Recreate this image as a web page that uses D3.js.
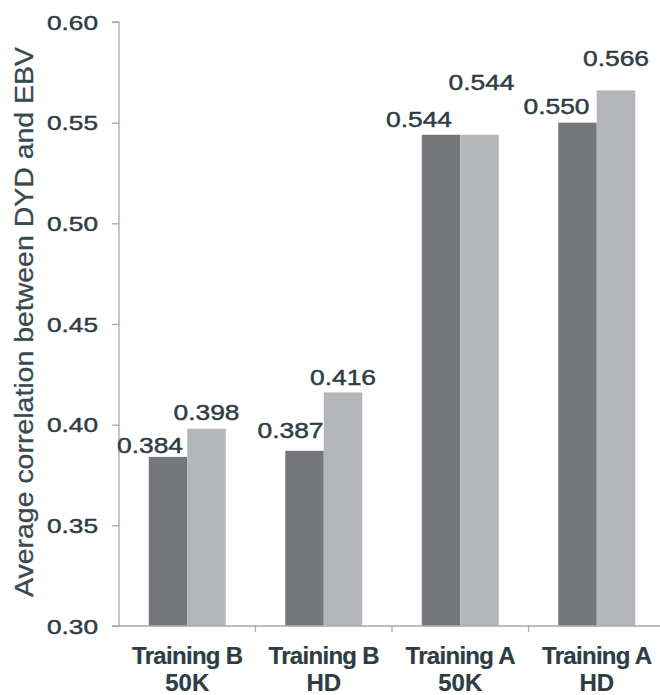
<!DOCTYPE html>
<html>
<head>
<meta charset="utf-8">
<script src="https://cdn.jsdelivr.net/npm/d3@7"></script>
<style>
  html, body { margin: 0; padding: 0; background: #fff; }
  svg { display: block; }
  text { font-family: "Liberation Sans", Arial, sans-serif; fill: #2e3c45; }
</style>
</head>
<body>
<svg id="chart" width="660" height="695"></svg>
<script>
// ---- data ----
const categories = [["Training B", "50K"], ["Training B", "HD"], ["Training A", "50K"], ["Training A", "HD"]];
const seriesNames = ["dark", "light"];
const darkValues  = [0.384, 0.387, 0.544, 0.550];
const lightValues = [0.398, 0.416, 0.544, 0.566];
const valueLabels = [["0.384", "0.398"], ["0.387", "0.416"], ["0.544", "0.544"], ["0.550", "0.566"]];
const yTicks = [0.30, 0.35, 0.40, 0.45, 0.50, 0.55, 0.60];
const yTitle = "Average correlation between DYD and EBV";

// label nudges (layout only, px): [dx, dy] per group per series
const labelNudge = [
  [[-18, -4], [0, -9]],
  [[-14, -13], [0, -7]],
  [[-22, -8], [2, -45]],
  [[-21, -9], [0, -24]]
];

const colors = { dark: "#75777a", light: "#b4b6b9" };
const axisColor = "#9eadb7";
const textColor = "#2e3c45";

const svg = d3.select("#chart");
const mLeft = 119, mRight = 665, mTop = 22, mBottom = 626;

const y = d3.scaleLinear().domain([0.30, 0.60]).range([mBottom, mTop]);
const x0 = d3.scaleBand().domain(d3.range(categories.length)).range([mLeft, mRight]).paddingInner(0).paddingOuter(0);
const x1 = d3.scaleBand().domain(seriesNames).range([0, x0.bandwidth()]).paddingInner(0).paddingOuter(0.773);

function stretchedText(parent, x, yy, str, opts) {
  const g = parent.append("g").attr("transform", `translate(${x},${yy})`);
  const t = g.append("text")
    .attr("transform", `scale(${opts.sx || 1},1)`)
    .attr("text-anchor", opts.anchor || "middle")
    .style("font-size", opts.size + "px")
    .style("font-weight", opts.weight || "normal")
    .style("stroke", textColor)
    .style("stroke-width", opts.stroke || 0.45)
    .text(str);
  if (opts.ls) t.style("letter-spacing", opts.ls + "px");
  return t;
}

// bars
const data = categories.map((c, i) => ({ i, vals: [darkValues[i], lightValues[i]] }));
const groups = svg.append("g").selectAll("g").data(data).join("g")
  .attr("transform", d => `translate(${x0(d.i)},0)`);
groups.selectAll("rect").data(d => d.vals.map((v, k) => ({ v, k }))).join("rect")
  .attr("x", d => x1(seriesNames[d.k]))
  .attr("width", x1.bandwidth())
  .attr("y", d => y(d.v))
  .attr("height", d => y(0.30) - y(d.v))
  .attr("fill", d => colors[seriesNames[d.k]]);

// y axis
const yAxis = d3.axisLeft(y).tickValues(yTicks).tickSize(7).tickFormat("");
const ya = svg.append("g").attr("transform", `translate(${mLeft},0)`).call(yAxis);
ya.selectAll("path,line").attr("stroke", axisColor).attr("stroke-width", 1.3);
ya.select(".domain").attr("d", `M-7,${mTop}H0V${mBottom}H-7`);
yTicks.forEach(v => {
  stretchedText(svg, 98, y(v) + 7.5, d3.format(".2f")(v), { size: 21, sx: 1.25, anchor: "end" });
});

// x axis
const xa = svg.append("g").attr("transform", `translate(0,${mBottom})`);
xa.append("line").attr("x1", mLeft).attr("x2", 660).attr("y1", 0).attr("y2", 0)
  .attr("stroke", axisColor).attr("stroke-width", 1.3);
d3.range(1, categories.length).forEach(i => {
  xa.append("line").attr("x1", x0(i)).attr("x2", x0(i)).attr("y1", 0).attr("y2", 6)
    .attr("stroke", axisColor).attr("stroke-width", 1.3);
});
categories.forEach((c, i) => {
  const cx = x0(i) + x0.bandwidth() / 2;
  stretchedText(svg, cx, 664, c[0], { size: 24, weight: "bold", ls: -0.7, stroke: 0.2 });
  stretchedText(svg, cx, 691, c[1], { size: 24, weight: "bold", stroke: 0.2 });
});

// value labels
data.forEach(d => {
  d.vals.forEach((v, k) => {
    const cx = x0(d.i) + x1(seriesNames[k]) + x1.bandwidth() / 2 + labelNudge[d.i][k][0];
    stretchedText(svg, cx, y(v) + labelNudge[d.i][k][1], valueLabels[d.i][k], { size: 22, sx: 1.2 });
  });
});

// y title
svg.append("text")
  .attr("transform", `translate(33,322) rotate(-90)`)
  .attr("text-anchor", "middle")
  .style("font-size", "25px")
  .attr("textLength", 550)
  .attr("lengthAdjust", "spacingAndGlyphs")
  .style("fill", "#3a4850")
  .style("stroke", "#3a4850")
  .style("stroke-width", 0.3)
  .text(yTitle);
</script>
</body>
</html>
